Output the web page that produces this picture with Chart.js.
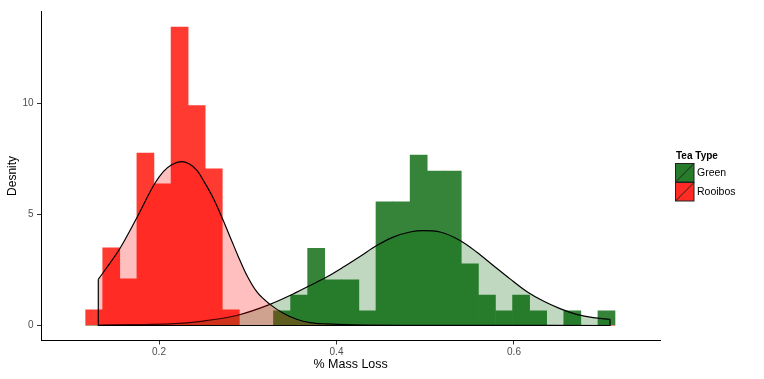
<!DOCTYPE html>
<html>
<head>
<meta charset="utf-8">
<script src="https://cdn.jsdelivr.net/npm/chart.js@4"></script>
<style>
  html, body { margin: 0; padding: 0; background: #fff; }
  #wrap { width: 764px; height: 379px; position: relative; }
</style>
</head>
<body>
<div id="wrap"><canvas id="c" width="764" height="379"></canvas></div>
<script>
// ---------- data ----------
const binCenters = [0.1270, 0.1462, 0.1655, 0.1847, 0.2040, 0.2232, 0.2424, 0.2617, 0.2809, 0.3002,
  0.3194, 0.3386, 0.3579, 0.3771, 0.3964, 0.4156, 0.4348, 0.4541, 0.4733, 0.4926,
  0.5118, 0.5310, 0.5503, 0.5695, 0.5888, 0.6080, 0.6272, 0.6465, 0.6657, 0.6850, 0.7042];

const greenHist = [0, 0, 0, 0, 0, 0, 0, 0, 0, 0,
  0, 0.66, 1.37, 3.47, 2.06, 2.06, 0.66, 5.57, 5.57, 7.67,
  6.95, 6.95, 2.78, 1.37, 0.66, 1.37, 0.66, 0, 0.66, 0, 0.66];

const rooibosHist = [0.70, 3.50, 2.10, 7.76, 6.38, 13.44, 9.90, 7.06, 0.70, 0,
  0, 0, 0, 0, 0, 0, 0, 0, 0, 0,
  0, 0, 0, 0, 0, 0, 0, 0, 0, 0, 0];

const greenCurveX = [0.1316, 0.1700, 0.2124, 0.2500, 0.2875, 0.3251, 0.3476, 0.3701, 0.3889, 0.4077,
  0.4265, 0.4453, 0.4640, 0.4828, 0.4978, 0.5166, 0.5392, 0.5579, 0.5767, 0.5955,
  0.6143, 0.6330, 0.6518, 0.6706, 0.6893, 0.7082];
const greenCurveY = [0.02, 0.04, 0.07, 0.20, 0.45, 0.95, 1.35, 1.80, 2.18, 2.63,
  3.11, 3.60, 3.98, 4.21, 4.27, 4.21, 3.83, 3.31, 2.70, 2.10,
  1.53, 1.10, 0.76, 0.50, 0.35, 0.28];

const rooibosCurveX = [0.1316, 0.1410, 0.1561, 0.1756, 0.1947, 0.2049, 0.2143, 0.2255, 0.2425, 0.2518,
  0.2612, 0.2706, 0.2800, 0.2894, 0.2988, 0.3101, 0.3251, 0.3401, 0.3551, 0.3701,
  0.3889, 0.4200, 0.5000, 0.7082];
const rooibosCurveY = [2.08, 2.60, 3.48, 4.90, 6.36, 6.93, 7.24, 7.38, 7.00, 6.41,
  5.73, 4.90, 4.00, 3.10, 2.27, 1.52, 0.95, 0.55, 0.28, 0.13,
  0.07, 0.03, 0.01, 0.00];

const xTicks = [0.2, 0.4, 0.6];
const yTicks = [0, 5, 10];
const seriesNames = ['Green', 'Rooibos'];

// ---------- styles ----------
const FONT = '"Liberation Sans", Arial, Helvetica, sans-serif';
const greenBar = 'rgb(53,132,58)';
const redBar = 'rgb(255,58,48)';
const greenFill = 'rgba(0,100,0,0.25)';
const redFill = 'rgba(255,0,0,0.25)';

const pts = (xs, ys) => xs.map((x, i) => ({ x: x, y: ys[i] }));

const outline = [
  { x: rooibosCurveX[0], y: rooibosCurveY[0] },
  { x: rooibosCurveX[0], y: 0 },
  { x: greenCurveX[greenCurveX.length - 1], y: 0 },
  { x: greenCurveX[greenCurveX.length - 1], y: greenCurveY[greenCurveY.length - 1] }
];

const legendPlugin = {
  id: 'teaLegend',
  afterDraw(chart) {
    const ctx = chart.ctx;
    ctx.save();
    ctx.textBaseline = 'middle';
    ctx.textAlign = 'left';
    ctx.fillStyle = '#000';
    ctx.font = 'bold 10px ' + FONT;
    ctx.fillText('Tea Type', 676, 156);
    const keys = [
      { y: 163.5, bar: greenBar, fill: greenFill, label: seriesNames[0] },
      { y: 182.5, bar: redBar, fill: redFill, label: seriesNames[1] }
    ];
    keys.forEach(k => {
      const x = 675.5, w = 18.5, h = 18.5;
      ctx.fillStyle = k.bar;
      ctx.fillRect(x, k.y, w, h);
      ctx.fillStyle = k.fill;
      ctx.fillRect(x, k.y, w, h);
      ctx.strokeStyle = '#222';
      ctx.lineWidth = 1;
      ctx.strokeRect(x, k.y, w, h);
      ctx.beginPath();
      ctx.moveTo(x, k.y + h);
      ctx.lineTo(x + w, k.y);
      ctx.stroke();
      ctx.fillStyle = '#000';
      ctx.font = '10.5px ' + FONT;
      ctx.fillText(k.label, 697, k.y + h / 2 + 0.5);
    });
    ctx.restore();
  }
};

new Chart(document.getElementById('c'), {
  type: 'bar',
  data: {
    datasets: [
      {
        type: 'line', label: 'outline', data: outline,
        borderColor: '#000', borderWidth: 1.2, pointRadius: 0, tension: 0,
        fill: false, order: 1
      },
      {
        type: 'line', label: seriesNames[1] + ' density', data: pts(rooibosCurveX, rooibosCurveY),
        borderColor: '#000', borderWidth: 1.2, pointRadius: 0,
        cubicInterpolationMode: 'monotone', fill: 'origin', backgroundColor: redFill, order: 2
      },
      {
        type: 'line', label: seriesNames[0] + ' density', data: pts(greenCurveX, greenCurveY),
        borderColor: '#000', borderWidth: 1.2, pointRadius: 0,
        cubicInterpolationMode: 'monotone', fill: 'origin', backgroundColor: greenFill, order: 3
      },
      {
        type: 'bar', label: seriesNames[1], data: pts(binCenters, rooibosHist),
        backgroundColor: redBar, borderWidth: 0, grouped: false,
        barPercentage: 1, categoryPercentage: 1, order: 10
      },
      {
        type: 'bar', label: seriesNames[0], data: pts(binCenters, greenHist),
        backgroundColor: greenBar, borderWidth: 0, grouped: false,
        barPercentage: 1, categoryPercentage: 1, order: 11
      }
    ]
  },
  options: {
    responsive: false,
    animation: false,
    devicePixelRatio: 1,
    layout: { padding: { left: 0, top: 11.3, right: 103.7, bottom: 0 } },
    plugins: { legend: { display: false }, tooltip: { enabled: false } },
    scales: {
      x: {
        type: 'linear', offset: false,
        min: 0.06704, max: 0.76485,
        afterBuildTicks: s => { s.ticks = xTicks.map(v => ({ value: v })); },
        afterFit: s => { s.height = 38.5; },
        grid: { offset: false, drawOnChartArea: false, drawTicks: true, tickLength: 4, color: '#333' },
        border: { display: true, color: '#000', width: 1 },
        ticks: { font: { family: FONT, size: 10 }, color: '#4d4d4d', padding: 1.5, maxRotation: 0,
                 callback: v => Number(v).toFixed(1) },
        title: { display: true, text: '% Mass Loss', color: '#000',
                 font: { family: FONT, size: 12.5 }, padding: { top: 0, bottom: 7 } }
      },
      y: {
        type: 'linear', min: -0.676, max: 14.15,
        afterBuildTicks: s => { s.ticks = yTicks.map(v => ({ value: v })); },
        afterFit: s => { s.width = 41; },
        grid: { drawOnChartArea: false, drawTicks: true, tickLength: 4, color: '#333' },
        border: { display: true, color: '#000', width: 1 },
        ticks: { font: { family: FONT, size: 10 }, color: '#4d4d4d', padding: 3.5,
                 callback: v => String(v) },
        title: { display: true, text: 'Desnity', color: '#000',
                 font: { family: FONT, size: 12 }, padding: { top: 5, bottom: 0 } }
      }
    }
  },
  plugins: [legendPlugin]
});
</script>
</body>
</html>
